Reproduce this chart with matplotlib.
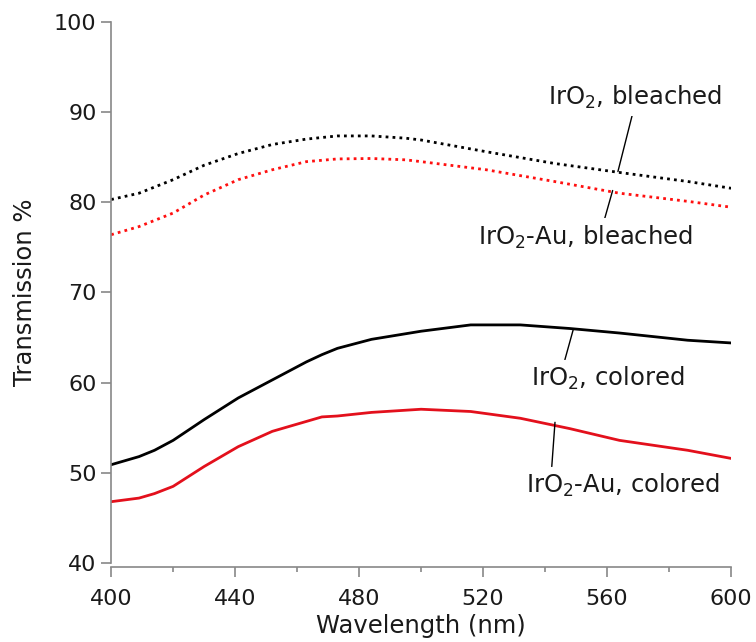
import numpy as np
import matplotlib.pyplot as plt

# valores
wl_bl = [400, 409, 420, 430, 441, 452, 463, 473, 484, 495, 500, 521, 543, 564, 586, 600]
iro2_bleached = [80.3, 81.0, 82.5, 84.1, 85.4, 86.4, 87.0, 87.35, 87.35, 87.1, 86.9, 85.6, 84.3, 83.3, 82.3, 81.55]
iro2au_bleached = [76.4, 77.3, 78.8, 80.8, 82.5, 83.6, 84.5, 84.8, 84.85, 84.7, 84.5, 83.6, 82.3, 81.0, 80.1, 79.45]

wl_col = [400, 409, 414, 420, 430, 441, 452, 463, 468, 473, 484, 500, 516, 532, 548, 564, 586, 600]
iro2_colored = [50.9, 51.8, 52.5, 53.6, 55.9, 58.3, 60.3, 62.3, 63.1, 63.8, 64.8, 65.7, 66.4, 66.4, 66.0, 65.5, 64.7, 64.4]
iro2au_colored = [46.8, 47.2, 47.7, 48.5, 50.7, 52.9, 54.6, 55.7, 56.2, 56.3, 56.7, 57.05, 56.8, 56.05, 54.9, 53.6, 52.5, 51.6]

labels = ["IrO$_2$, bleached", "IrO$_2$-Au, bleached", "IrO$_2$, colored", "IrO$_2$-Au, colored"]
text_pos = [(569.0, 91.6), (552.9, 76.15), (560.3, 60.5), (565.2, 48.65)]
point_pos = [(563.5, 83.4), (561.8, 81.3), (549.1, 65.9), (543.2, 55.6)]
rel_pos = [(0.49, 0.0), (0.585, 1.0), (0.21, 1.0), (0.13, 1.0)]

plt.rcParams['font.family'] = ['DejaVu Sans']

fig = plt.figure(figsize=(7.56, 6.42), dpi=100)
ax = fig.add_axes([0.147, 0.123, 0.82, 0.843])

ax.plot(wl_bl, iro2_bleached, color='black', lw=2, linestyle=(0, (1, 1.5)))
ax.plot(wl_bl, iro2au_bleached, color='#ff1010', lw=2, linestyle=(0, (1, 1.5)))
ax.plot(wl_col, iro2_colored, color='black', lw=2)
ax.plot(wl_col, iro2au_colored, color='#e3101c', lw=2)

for lab, tp, pp, rp in zip(labels, text_pos, point_pos, rel_pos):
    ax.annotate(lab, xy=pp, xytext=tp, ha='center', va='center', fontsize=17.5,
                color='#1a1a1a',
                bbox=dict(boxstyle='square,pad=0.2', fc='white', ec='none'),
                arrowprops=dict(arrowstyle='-', color='black', lw=1, relpos=rp,
                                shrinkA=0, shrinkB=0))

ax.set_xlim(400, 600)
ax.set_ylim(40, 100)
ax.set_xticks([400, 440, 480, 520, 560, 600])
ax.set_xticks(np.arange(400, 601, 20), minor=True)
ax.set_yticks([40, 50, 60, 70, 80, 90, 100])

for s in ['top', 'right']:
    ax.spines[s].set_visible(False)
for s in ['left', 'bottom']:
    ax.spines[s].set_color('#888888')
    ax.spines[s].set_linewidth(1.2)
ax.spines['bottom'].set_position(('outward', 3))

ax.tick_params(axis='both', which='major', direction='out', length=7, width=1.2,
               color='#888888', labelsize=16, labelcolor='#1a1a1a')
ax.tick_params(axis='x', which='major', pad=9)
ax.tick_params(axis='x', which='minor', direction='out', length=3.5, width=1.2, color='#888888')

ax.set_xlabel("Wavelength (nm)", fontsize=17.5, color='#1a1a1a', labelpad=3)
ax.set_ylabel("Transmission %", fontsize=17.5, color='#1a1a1a', labelpad=12)

fig.savefig("out.png", dpi=100)
